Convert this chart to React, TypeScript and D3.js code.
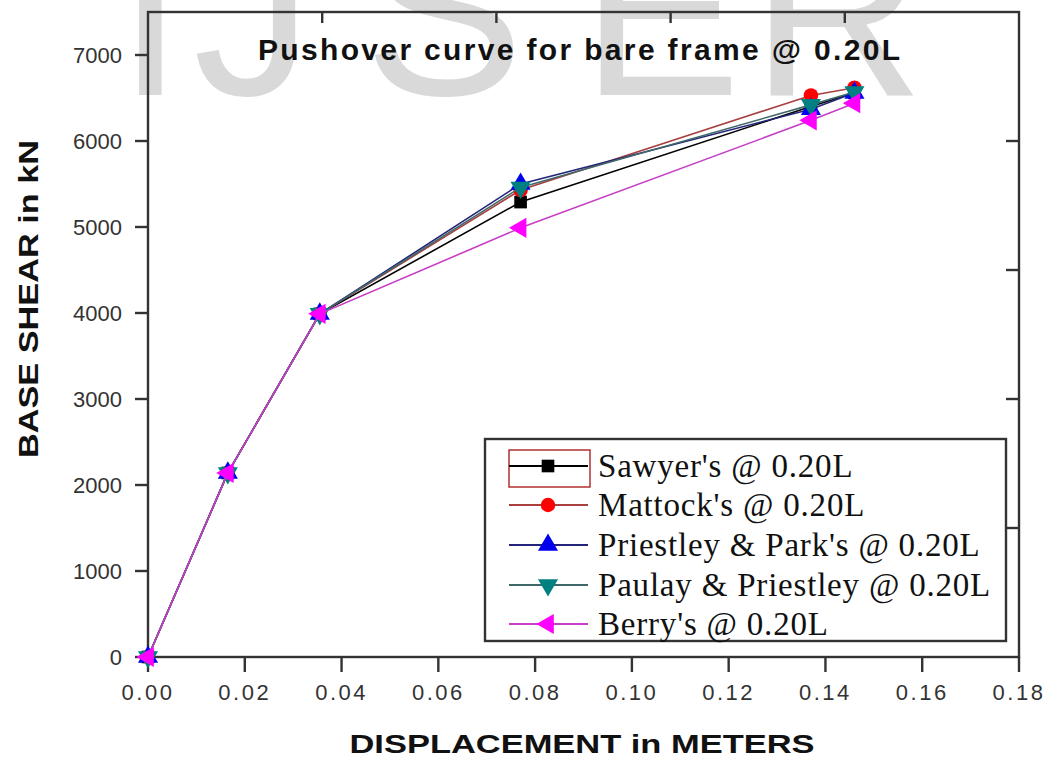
import React from "react";
import * as d3 from "d3";

const seriesNames = [
  "Sawyer's @ 0.20L",
  "Mattock's @ 0.20L",
  "Priestley & Park's @ 0.20L",
  "Paulay & Priestley @ 0.20L",
  "Berry's @ 0.20L",
];
const displacement = [0, 0.0165, 0.0355, 0.077, 0.137, 0.146];
const sawyer = [0, 2140, 3990, 5290, 6400, 6560];
const mattock = [0, 2140, 3990, 5430, 6530, 6620];
const priestleyPark = [0, 2140, 3990, 5500, 6370, 6560];
const paulayPriestley = [0, 2140, 3990, 5460, 6420, 6570];
const berry = [0, 2140, 3990, 4990, 6240, 6440];
const seriesValues = [sawyer, mattock, priestleyPark, paulayPriestley, berry];

const xTicks = [0, 0.02, 0.04, 0.06, 0.08, 0.1, 0.12, 0.14, 0.16, 0.18];
const yTicks = [0, 1000, 2000, 3000, 4000, 5000, 6000, 7000];
const topTicks = [0.036, 0.072, 0.108, 0.144];
const rightTicks = [1500, 3000, 4500, 6000];

const watermarkLetters = ["I", "J", "S", "E", "R"];

const lineColors = ["#000000", "#a84040", "#23237a", "#3f6868", "#c63fc6"];
const markerColors = ["#000000", "#ff0000", "#0000ee", "#008080", "#ff00ff"];
const markerTypes = ["square", "circle", "triangle", "down", "left"];

function markerPath(type: string): { d: string; rot: number } {
  if (type === "square") return { d: d3.symbol(d3.symbolSquare, 160)() as string, rot: 0 };
  if (type === "circle") return { d: d3.symbol(d3.symbolCircle, 165)() as string, rot: 0 };
  if (type === "triangle") return { d: d3.symbol(d3.symbolTriangle, 175)() as string, rot: 0 };
  if (type === "down") return { d: d3.symbol(d3.symbolTriangle, 175)() as string, rot: 180 };
  return { d: d3.symbol(d3.symbolTriangle, 175)() as string, rot: -90 };
}

export default function App() {
  const W = 1050;
  const H = 757;
  const left = 148;
  const right = 1019;
  const top = 12;
  const bottom = 657;

  const x = d3.scaleLinear().domain([0, 0.18]).range([left, right]);
  const y = d3.scaleLinear().domain([0, 7500]).range([bottom, top]);

  const line = d3
    .line<number>()
    .x((_, i) => x(displacement[i]))
    .y((v) => y(v));

  const axisColor = "#333333";
  const sans = "'Liberation Sans', Arial, sans-serif";

  const legendRows = [466, 505, 545, 585, 624];
  const legX1 = 509;
  const legX2 = 588;
  const legMid = 548;
  const wmX = [117, 193, 364, 581, 751];

  return (
    <svg
      width={W}
      height={H}
      style={{ position: "absolute", left: 0, top: 0, background: "#ffffff" }}
    >
      <rect x={0} y={0} width={W} height={H} fill="#ffffff" />
      {/* watermark */}
      {watermarkLetters.map((ch, i) => (
        <text key={"w" + i} x={wmX[i]} y={95} fontFamily={sans} fontSize={240} fill="#d9d9d9">
          {ch}
        </text>
      ))}

      {/* frame */}
      <rect
        x={left}
        y={top}
        width={right - left}
        height={bottom - top}
        fill="none"
        stroke={axisColor}
        strokeWidth={2.4}
      />

      {/* left ticks + labels */}
      {yTicks.map((t) => (
        <g key={"y" + t}>
          <line x1={135} x2={left} y1={y(t)} y2={y(t)} stroke={axisColor} strokeWidth={2.4} />
          <text
            x={122}
            y={y(t)}
            dy="0.36em"
            textAnchor="end"
            fontFamily={sans}
            fontSize={22}
            fill="#333333"
          >
            {t}
          </text>
        </g>
      ))}

      {/* bottom ticks + labels */}
      {xTicks.map((t) => (
        <g key={"x" + t}>
          <line x1={x(t)} x2={x(t)} y1={bottom} y2={672} stroke={axisColor} strokeWidth={2.4} />
          <text
            x={x(t)}
            y={700}
            textAnchor="middle"
            fontFamily={sans}
            fontSize={22}
            letterSpacing={2.5}
            fill="#333333"
          >
            {t.toFixed(2)}
          </text>
        </g>
      ))}

      {/* top & right inward ticks */}
      {topTicks.map((t) => (
        <line key={"t" + t} x1={x(t)} x2={x(t)} y1={top} y2={top + 11} stroke={axisColor} strokeWidth={2.4} />
      ))}
      {rightTicks.map((t) => (
        <line key={"r" + t} x1={right - 13} x2={right} y1={y(t)} y2={y(t)} stroke={axisColor} strokeWidth={2.4} />
      ))}

      {/* title */}
      <text
        x={579}
        y={60}
        textAnchor="middle"
        fontFamily={sans}
        fontWeight="bold"
        fontSize={30}
        textLength={642}
        lengthAdjust="spacing"
        fill="#111111"
      >
        Pushover curve for bare frame @ 0.20L
      </text>

      {/* axis titles */}
      <text
        x={582}
        y={753}
        textAnchor="middle"
        fontFamily={sans}
        fontWeight="bold"
        fontSize={26}
        textLength={465}
        lengthAdjust="spacingAndGlyphs"
        fill="#111111"
      >
        DISPLACEMENT in METERS
      </text>
      <text
        transform={"translate(38,299) rotate(-90)"}
        textAnchor="middle"
        fontFamily={sans}
        fontWeight="bold"
        fontSize={27}
        textLength={318}
        lengthAdjust="spacingAndGlyphs"
        fill="#111111"
      >
        BASE SHEAR in kN
      </text>

      {/* series */}
      {seriesValues.map((vals, si) => {
        const m = markerPath(markerTypes[si]);
        return (
          <g key={"s" + si}>
            <path d={line(vals) as string} fill="none" stroke={lineColors[si]} strokeWidth={1.6} />
            {vals.map((v, i) => (
              <path
                key={i}
                d={m.d}
                transform={`translate(${x(displacement[i])},${y(v)}) rotate(${m.rot})`}
                fill={markerColors[si]}
              />
            ))}
          </g>
        );
      })}

      {/* legend */}
      <rect x={485} y={439} width={521} height={202} fill="#ffffff" stroke={axisColor} strokeWidth={2.4} />
      <rect x={509} y={450} width={81} height={37} fill="none" stroke="#b03030" strokeWidth={1.5} />
      {seriesNames.map((name, si) => {
        const m = markerPath(markerTypes[si]);
        const cy = legendRows[si];
        return (
          <g key={"l" + si}>
            <line x1={legX1} x2={legX2} y1={cy} y2={cy} stroke={lineColors[si]} strokeWidth={2} />
            <path d={m.d} transform={`translate(${legMid},${cy}) rotate(${m.rot})`} fill={markerColors[si]} />
            <text
              x={598}
              y={cy}
              dy="0.33em"
              fontFamily="'Liberation Serif', 'Times New Roman', serif"
              fontSize={33}
              letterSpacing={0.8}
              fill="#111111"
            >
              {name}
            </text>
          </g>
        );
      })}
    </svg>
  );
}
